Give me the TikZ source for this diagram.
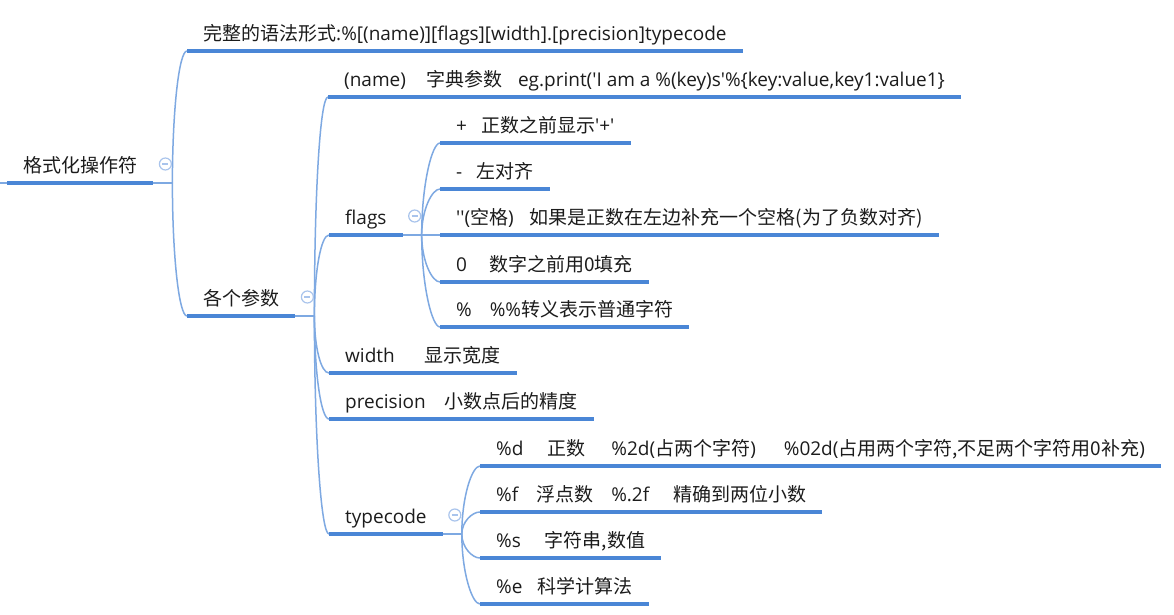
\documentclass[tikz,border=0pt]{standalone}
\usepackage{fontspec}
\newfontfamily\mapfont{Open Sans}
\newfontfamily\zhfont{Noto Sans CJK SC}
\newcommand\zh[1]{{\zhfont #1}}
\usetikzlibrary{calc}
\definecolor{mapblue}{HTML}{4A86D6}
\definecolor{linkblue}{HTML}{7EA9E2}
\definecolor{foldblue}{HTML}{A9C4EC}
\definecolor{mapink}{HTML}{1C1C1C}
\tikzset{
  topic/.style={anchor=south west, inner xsep=16pt, inner ysep=0pt,
    text height=14pt, text depth=10pt, text=mapink,
    font=\mapfont\fontsize{19}{22}\selectfont},
  bar/.style={mapblue, line width=4pt},
  link/.style={linkblue, line width=1.5pt},
  fold/.style={circle, draw=foldblue, line width=1.2pt, fill=white,
    minimum size=12pt, inner sep=0pt,
    path picture={\draw[foldblue, line width=1.2pt]
      ([xshift=-3pt]path picture bounding box.center) --
      ([xshift=3pt]path picture bounding box.center);}}
}

\begin{document}
\begin{tikzpicture}[x=1pt, y=-1pt]
  \fill[white] (0,0) rectangle (1174,615);
  \useasboundingbox (0,0) rectangle (1174,615);

  % topics
  \node[topic] (root) at (7,183) {\zh{格式化操作符}};
  \node[topic] (syntax) at (187,51) {\zh{完整的语法形式}:\%[(name)][flags][width].[precision]typecode};
  \node[topic] (params) at (187,316) {\zh{各个参数}};
  \node[topic] (pname) at (328,97) {(name)\hspace{20pt}\zh{字典参数}\hspace{16pt}eg.print('I am a \%(key)s'\%\{key:value,key1:value1\}};
  \node[topic] (flags) at (329,235) {flags};
  \node[topic] (width) at (329,373) {width\hspace{30pt}\zh{显示宽度}};
  \node[topic] (prec) at (329,419) {precision\hspace{19pt}\zh{小数点后的精度}};
  \node[topic] (tcode) at (329,534) {typecode};
  \node[topic] (fplus) at (440,143) {+\hspace{14pt}\zh{正数之前显示}'+'};
  \node[topic] (fminus) at (440,189) {-\hspace{14pt}\zh{左对齐}};
  \node[topic] (fspace) at (440,235) {''(\zh{空格})\hspace{16pt}\zh{如果是正数在左边补充一个空格(为了负数对齐)}};
  \node[topic] (fzero) at (440,282) {0\hspace{22pt}\zh{数字之前用0填充}};
  \node[topic] (fpct) at (440,327) {\%\hspace{18pt}\%\%\zh{转义表示普通字符}};
  \node[topic] (td) at (480,466) {\%d\hspace{24pt}\zh{正数}\hspace{26pt}\%2d(\zh{占两个字符})\hspace{28pt}\%02d(\zh{占用两个字符,不足两个字符用0补充})};
  \node[topic] (tf) at (480,512) {\%f\hspace{18pt}\zh{浮点数}\hspace{18pt}\%.2f\hspace{24pt}\zh{精确到两位小数}};
  \node[topic] (ts) at (480,558) {\%s\hspace{24pt}\zh{字符串,数值}};
  \node[topic] (te) at (480,604) {\%e\hspace{15pt}\zh{科学计算法}};

  % connectors
  \coordinate (edge) at (0,183);
  \draw[link] (edge) -- (root.south west);
  \foreach \up/\kids in {root/{syntax,params}, params/{pname,flags,width,prec,tcode},
      flags/{fplus,fminus,fspace,fzero,fpct}, tcode/{td,tf,ts,te}}{
    \draw[link] (\up.south east) -- ++(19,0) coordinate (\up-j);
    \foreach \c in \kids
      \draw[link] (\up-j) .. controls ($(\up-j)!0.55!(\up-j|-\c.south west)$)
        and ($(\c.south west)+(-8,0)$) .. (\c.south west);
  }
  \foreach \n in {root,syntax,params,pname,flags,width,prec,tcode,
      fplus,fminus,fspace,fzero,fpct,td,tf,ts,te}
    \draw[bar] (\n.south west) -- (\n.south east);
  \foreach \up in {root,params,flags,tcode}
    \node[fold] (\up-fold) at ($(\up.south east)+(12,-19)$) {};
\end{tikzpicture}
\end{document}
